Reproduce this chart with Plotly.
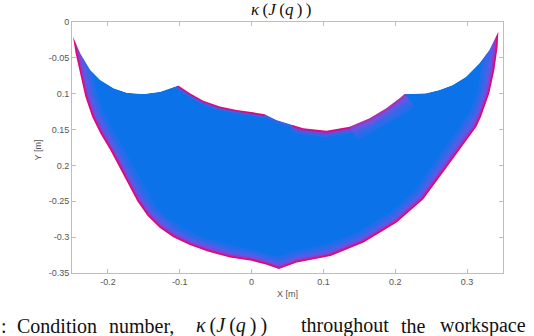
import plotly.graph_objects as go

# Workspace boundary (metres)
# upper (inner) edge, from the left tip to the right tip
top_x = [-0.2486, -0.2385, -0.2245, -0.2107, -0.192, -0.1736, -0.1506, -0.127, -0.1135, -0.102,
         -0.0857, -0.0672, -0.044, -0.0208, 0.0022, 0.0185, 0.0347, 0.0578, 0.072, 0.1042,
         0.1365, 0.1643, 0.1875, 0.206, 0.2129, 0.2199, 0.243, 0.2615, 0.28, 0.2986,
         0.3171, 0.331, 0.3403, 0.3435]
top_y = [-0.0205, -0.0437, -0.0669, -0.0808, -0.0925, -0.0985, -0.1004, -0.0971, -0.0925, -0.0887,
         -0.0994, -0.1097, -0.118, -0.1227, -0.1259, -0.1287, -0.1366, -0.1436, -0.148, -0.1515,
         -0.1459, -0.1343, -0.1203, -0.1064, -0.1004, -0.1004, -0.0994, -0.0948, -0.0878, -0.0762,
         -0.0576, -0.039, -0.0205, -0.0135]

# outer edge, from the left tip round the bottom to the right tip
out_x = [-0.2486, -0.245, -0.238, -0.2315, -0.222, -0.2107, -0.1968, -0.184, -0.172, -0.159,
         -0.145, -0.128, -0.109, -0.086, -0.061, -0.030, 0.0, 0.020, 0.038, 0.063,
         0.110, 0.156, 0.202, 0.239, 0.269, 0.290, 0.313, 0.3194, 0.331, 0.338,
         0.3425, 0.3435]
out_y = [-0.0205, -0.0437, -0.076, -0.104, -0.132, -0.155, -0.1784, -0.202, -0.226, -0.250,
         -0.270, -0.287, -0.300, -0.311, -0.320, -0.3285, -0.333, -0.338, -0.3445, -0.3355,
         -0.3262, -0.3076, -0.2797, -0.2471, -0.2063, -0.1784, -0.146, -0.132, -0.0994, -0.0669,
         -0.0344, -0.0135]

# axes
x_range = [-0.25, 0.35]
y_range = [-0.35, 0]
x_ticks = [-0.2, -0.1, 0, 0.1, 0.2, 0.3]
x_ticktext = ["-0.2", "-0.1", "0", "0.1", "0.2", "0.3"]
y_ticks = [0, -0.05, -0.1, -0.15, -0.2, -0.25, -0.3, -0.35]
y_ticktext = ["0", "-0.05", "0.1", "0.15", "0.2", "-0.25", "-0.3", "-0.35"]

KAPPA = "<i>κ</i>\u2009(<i>J</i>\u2009(<i>q</i>\u2009)\u2009)"

# caption words and their left edges (paper coords)
caption_words = [":", "Condition", "number,", KAPPA, "throughout", "the", "workspace"]
caption_x = [-0.169, -0.132, 0.081, 0.283, 0.526, 0.758, 0.849]

BLUE = "#0b72ea"
MAGENTA = "#dc0a78"

shape_x = top_x + out_x[::-1]
shape_y = top_y + out_y[::-1]

fig = go.Figure()

# filled workspace
fig.add_trace(go.Scatter(x=shape_x, y=shape_y, mode="lines", fill="toself",
                         fillcolor=BLUE, line=dict(width=0), hoverinfo="skip"))

def edge(xs, ys, widths, colors):
    for w, c in zip(widths, colors):
        fig.add_trace(go.Scatter(x=xs, y=ys, mode="lines", hoverinfo="skip",
                                 line=dict(width=w, color=c)))

# soft purple gradient towards the edge, magenta on the edge itself
band_w = [24, 18, 13, 9, 6, 3.5]
band_c = ["rgba(115,95,235,0.22)", "rgba(125,85,230,0.25)", "rgba(140,75,225,0.3)",
          "rgba(160,55,210,0.35)", "rgba(190,30,180,0.45)", MAGENTA]

# outer edge: high condition number
edge(out_x, out_y, band_w, band_c)
# inner edge between the two cusps
edge(top_x[9:16], top_y[9:16], [8, 5, 3], ["rgba(140,75,225,0.3)", "rgba(180,40,190,0.45)", MAGENTA])
edge(top_x[15:18], top_y[15:18], [6], ["rgba(150,70,215,0.3)"])
edge(top_x[17:25], top_y[17:25], band_w[2:], band_c[2:])
edge(top_x[20:25], top_y[20:25], [32, 24, 16], ["rgba(115,95,235,0.2)", "rgba(125,85,230,0.22)",
                                                 "rgba(140,75,225,0.25)"])

# white mask of everything outside the workspace (rectangle with a hole)
mx0, mx1 = x_range[0] - 0.02, x_range[1] + 0.02
my0, my1 = y_range[0] - 0.02, y_range[1] + 0.02
mask_x = [mx0, mx0, mx1, mx1, mx0] + shape_x + [shape_x[0]]
mask_y = [my1, my0, my0, my1, my1] + shape_y + [shape_y[0]]
fig.add_trace(go.Scatter(x=mask_x, y=mask_y, mode="lines", fill="toself",
                         fillcolor="white", line=dict(width=0), hoverinfo="skip"))

axis_style = dict(showline=True, linecolor="#bdbdbd", linewidth=1, mirror="ticks",
                  ticks="inside", ticklen=4, tickcolor="#bdbdbd", showgrid=False,
                  zeroline=False, tickfont=dict(family="Liberation Sans, Arial", size=9, color="#555555"))

fig.update_layout(
    width=534, height=336,
    margin=dict(l=72, r=31, t=22, b=63),
    paper_bgcolor="white", plot_bgcolor="white",
    showlegend=False,
    xaxis=dict(range=x_range, tickvals=x_ticks, ticktext=x_ticktext, **axis_style),
    yaxis=dict(range=y_range, tickvals=y_ticks, ticktext=y_ticktext, **axis_style),
)

fig.add_annotation(text=KAPPA, xref="paper", yref="paper", x=0.485, y=1.0, yshift=1,
                   xanchor="center", yanchor="bottom", showarrow=False,
                   font=dict(family="Liberation Serif, Times New Roman", size=17, color="#111111"))
fig.add_annotation(text="X [m]", xref="paper", yref="paper", x=0.5, y=-0.084,
                   xanchor="center", yanchor="middle", showarrow=False,
                   font=dict(family="Liberation Sans, Arial", size=9, color="#555555"))
fig.add_annotation(text="Y [m]", xref="paper", yref="paper", x=-0.078, y=0.49, textangle=-90,
                   xanchor="center", yanchor="middle", showarrow=False,
                   font=dict(family="Liberation Sans, Arial", size=9, color="#555555"))

for word, wx in zip(caption_words, caption_x):
    fig.add_annotation(text=word, xref="paper", yref="paper", x=wx, y=-0.211,
                       xanchor="left", yanchor="middle", showarrow=False,
                       font=dict(family="Liberation Serif, Times New Roman", size=20, color="#111111"))

# drop the page's default body margin so the figure sits at the window's corner
fig.write_html("out.html", config={"displayModeBar": False},
               post_script="document.body.style.margin = '0';")
